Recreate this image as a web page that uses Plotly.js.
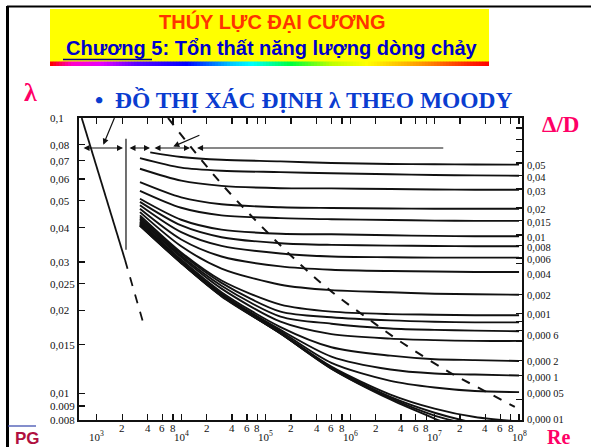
<!DOCTYPE html>
<html><head><meta charset="utf-8">
<script src="https://cdn.plot.ly/plotly-3.0.1.min.js"></script>
<style>html,body{margin:0;padding:0;background:#fff;overflow:hidden}#chart{width:591px;height:447px}</style>
</head><body><div id="chart"></div>
<script>
// ---------- data ----------
const reGrid = [3250, 1e4, 3e4, 1.5e5, 6e5, 3e6, 1e7, 3e7, 1e8];
const reTop  = [4300, 1e4, 3e4, 1.5e5, 6e5, 3e6, 1e7, 3e7, 1e8];
const roughLabels = ['0,05','0,04','0,03','0,02','0,015','0,01','0,008','0,006','0,004','0,002','0,001','0,000 6','0,000 2','0,000 1','0,000 05','0,000 01'];
const labelLam = [0.0672,0.0608,0.0541,0.0464,0.0417,0.0368,0.0339,0.0305,0.0271,0.0226,0.0194,0.0162,0.0131,0.0114,0.0100,0.00804];
const lam_050 = [0.0750,0.0722,0.0705,0.0696,0.0686,0.0681,0.0679,0.0678,0.0677];
const lam_040 = [0.0715,0.0660,0.0643,0.0636,0.0630,0.0625,0.0621,0.0619,0.0617];
const lam_030 = [0.0654,0.0592,0.0567,0.0556,0.0555,0.0552,0.0550,0.0549,0.0549];
const lam_020 = [0.0585,0.0515,0.0486,0.0474,0.0471,0.0469,0.0468,0.0468,0.0468];
const lam_015 = [0.0544,0.0472,0.0443,0.0433,0.0429,0.0426,0.0424,0.0423,0.0423];
const lam_010 = [0.0509,0.0427,0.0393,0.0380,0.0378,0.0375,0.0373,0.0372,0.0372];
const lam_008 = [0.0496,0.0407,0.0369,0.0351,0.0346,0.0344,0.0343,0.0342,0.0342];
const lam_006 = [0.0482,0.0385,0.0343,0.0322,0.0314,0.0312,0.0311,0.0311,0.0311];
const lam_004 = [0.0468,0.0362,0.0314,0.0289,0.0281,0.0278,0.0277,0.0276,0.0276];
const lam_002 = [0.0455,0.0342,0.0284,0.0248,0.0237,0.0233,0.0230,0.0229,0.0228];
const lam_001 = [0.0443,0.0325,0.0257,0.0210,0.0198,0.0194,0.0193,0.0192,0.0192];
const lam_0008 = [0.0436,0.0321,0.0252,0.0198,0.0189,0.0184,0.0182,0.0181,0.0181];
const lam_0006 = [0.0430,0.0316,0.0246,0.0190,0.0179,0.0172,0.0170,0.0169,0.0168];
const lam_0004 = [0.0425,0.0312,0.0240,0.0182,0.0164,0.0158,0.0156,0.0155,0.0155];
const lam_0002 = [0.0420,0.0306,0.0233,0.0174,0.0147,0.0137,0.0133,0.0132,0.0131];
const lam_0001 = [0.0416,0.0302,0.0230,0.0170,0.0136,0.0122,0.0118,0.0117,0.0116];
const lam_00005 = [0.0413,0.0300,0.0228,0.0168,0.0129,0.0111,0.0105,0.0102,0.0101];
const lam_00001 = [0.0410,0.0299,0.0227,0.0166,0.0125,0.0099,0.0088,0.0082,0.0079];
const lam_000005 = [0.0408,0.0298,0.0226,0.0165,0.0124,0.0097,0.0085,0.0078,0.0073];
const lam_000001 = [0.0407,0.0298,0.0226,0.0165,0.0123,0.0096,0.0083,0.0076,0.0068];
const lam_smooth = [0.0406,0.0297,0.0225,0.0165,0.0123,0.0095,0.0081,0.0071,0.0062];

const laminarRe = [664, 2164];      const laminarLam = [0.1, 0.0305];
const laminarDashRe = [2164, 3556]; const laminarDashLam = [0.0305, 0.018];
const criticalRe = [2220, 2220];    const criticalLam = [0.0841, 0.0332];
const boundaryRe  = [6980, 13800, 33000, 92900, 276000, 626000, 1.58e6, 4.22e6, 1.52e7, 4.16e7, 8.91e7];
const boundaryLam = [0.1, 0.0767, 0.0558, 0.0399, 0.0288, 0.0232, 0.0188, 0.0152, 0.0119, 0.0101, 0.00892];

const yTickVals = [0.1,0.08,0.07,0.06,0.05,0.04,0.03,0.025,0.02,0.015,0.01,0.009,0.008];
const yTickText = ['0,1','0,08','0,07','0,06','0,05','0,04','0,03','0,025','0,02','0,015','0,01','0.009','0.008'];
const xDecades = [1e3,1e4,1e5,1e6,1e7,1e8];
const xDecadeText = ['10<sup>3</sup>','10<sup>4</sup>','10<sup>5</sup>','10<sup>6</sup>','10<sup>7</sup>','10<sup>8</sup>'];
const xMinorMult = [2,4,6,8];
const rightTicks = [0.092,0.0838,0.0755,0.0686,0.0617,0.0552,0.0471,0.0424,0.0376,0.0344,0.0310,0.0296,0.0229,0.0195,0.0182,0.0169,0.0155,0.0132,0.0116,0.0095];
const arrowLam = 0.0778;
const arrowSegs = [[670,2046],[2345,4275],[4637,12700]];
const arrowLast = [15400, 1.32e7];

// ---------- layout helpers ----------
const L=79, R=69, T=118, B=27, PW=591-L-R, PH=447-T-B;
const px = x => (x-L)/PW, py = y => (447-B-y)/PH;
const lg = Math.log10;
const yr = [Math.log10(0.008),-1];
const yPaper = v => (lg(v)-yr[0])/(yr[1]-yr[0]);

const curveList = [lam_050,lam_040,lam_030,lam_020,lam_015,lam_010,lam_008,lam_006,lam_004,lam_002,lam_001,lam_0008,lam_0006,lam_0004,lam_0002,lam_0001,lam_00005,lam_00001,lam_000005,lam_000001,lam_smooth];
const traces = [];
curveList.forEach((c,i)=>{
  traces.push({x: i===0?reTop:reGrid, y:c, mode:'lines', line:{color:'#111',width:1.9,shape:'spline',smoothing:0.8}, hoverinfo:'skip', showlegend:false});
});
traces.push({x:laminarRe,y:laminarLam,mode:'lines',line:{color:'#111',width:1.8},showlegend:false,hoverinfo:'skip'});
traces.push({x:laminarDashRe,y:laminarDashLam,mode:'lines',line:{color:'#111',width:1.8,dash:'dash'},showlegend:false,hoverinfo:'skip'});
traces.push({x:criticalRe,y:criticalLam,mode:'lines',line:{color:'#111',width:1.2},showlegend:false,hoverinfo:'skip'});
traces.push({x:boundaryRe,y:boundaryLam,mode:'lines',line:{color:'#111',width:2,dash:'dash',shape:'spline'},showlegend:false,hoverinfo:'skip'});
traces.push({x:[1e5],y:[0.05],yaxis:'y2',mode:'markers',marker:{opacity:0},showlegend:false,hoverinfo:'skip'});

const ann = [];
const serif = 'Liberation Serif, Times New Roman, serif';
const sans = 'Liberation Sans, Arial, sans-serif';
function txt(text,x,y,size,color,family,xa){ann.push({text,x:px(x),y:py(y),xref:'paper',yref:'paper',showarrow:false,xanchor:xa||'center',yanchor:'middle',font:{size,color,family}});}
txt('<b>THÚY LỰC ĐẠI CƯƠNG</b>',272,21,20,'#FF3300',sans);
txt('<b>Chương 5: Tổn thất năng lượng dòng chảy</b>',271.5,48,20,'#0000CC',sans);
txt('<b>λ</b>',30,93,26,'#FF0066',serif);
txt('<b>•  ĐỒ THỊ XÁC ĐỊNH λ THEO MOODY</b>',304,100,23.5,'#0A3CD0',serif);
txt('<b>Δ/D</b>',560,124,23,'#FF0066',serif);
txt('<b>Re</b>',558,436.5,20,'#FF0066',serif);
txt('<b>PG</b>',27,438,17,'#B01040',sans);
// y tick labels (left aligned as in the picture)
yTickVals.forEach((v,i)=>{
  ann.push({text:yTickText[i],x:px(48),y:yPaper(v),xref:'paper',yref:'paper',showarrow:false,xanchor:'left',yanchor:'middle',font:{size:11,family:serif,color:'#111'}});
});
// x tick labels
xDecades.forEach((d,i)=>{
  ann.push({text:xDecadeText[i],x:lg(d),y:py(436),xref:'x',yref:'paper',showarrow:false,xanchor:'center',yanchor:'middle',font:{size:11,family:serif,color:'#111'}});
  if(i<xDecades.length-1) xMinorMult.forEach(m=>{
    ann.push({text:String(m),x:lg(d*m),y:py(428),xref:'x',yref:'paper',showarrow:false,xanchor:'center',yanchor:'middle',font:{size:11,family:serif,color:'#111'}});
  });
});
// right labels (Δ/D)
roughLabels.forEach((t,i)=>{
  ann.push({text:t,x:px(525),y:yPaper(labelLam[i]),xref:'paper',yref:'paper',showarrow:false,xanchor:'left',yanchor:'middle',font:{size:10.5,family:serif,color:'#111'}});
});
// arrows
function arr(x1,x2,y,side){ann.push({x:lg(x2),y:lg(y),ax:lg(x1),ay:lg(y),xref:'x',yref:'y',axref:'x',ayref:'y',text:'',showarrow:true,arrowhead:2,arrowsize:1,arrowwidth:1.2,arrowcolor:'#111',arrowside:side,standoff:0,startstandoff:0});}
arrowSegs.forEach(s=>arr(s[0],s[1],arrowLam,'end+start'));
arr(arrowLast[1],arrowLast[0],arrowLam,'end');
ann.push({x:lg(1197),y:lg(0.080),ax:lg(1647),ay:lg(0.1013),xref:'x',yref:'y',axref:'x',ayref:'y',text:'',showarrow:true,arrowhead:2,arrowwidth:1.2,arrowcolor:'#111',standoff:0});
ann.push({x:lg(8063),y:lg(0.0788),ax:lg(17100),ay:lg(0.087),xref:'x',yref:'y',axref:'x',ayref:'y',text:'',showarrow:true,arrowhead:2,arrowwidth:1.2,arrowcolor:'#111',standoff:0});

// shapes: slide decoration
const shapes = [];
function rect(x0,y0,x1,y1,color){shapes.push({type:'rect',xref:'paper',yref:'paper',x0:px(x0),x1:px(x1),y0:py(y1),y1:py(y0),fillcolor:color,line:{width:0},layer:'below'});}
function seg(x0,y0,x1,y1,color,w){shapes.push({type:'line',xref:'paper',yref:'paper',x0:px(x0),x1:px(x1),y0:py(y0),y1:py(y1),line:{color,width:w}});}
rect(50,9,489,62,'#FFFF00');
const stops = [[50,[255,0,0]],[70,[255,0,200]],[100,[230,0,255]],[135,[90,0,255]],[185,[0,0,255]],[230,[0,200,255]],[250,[0,255,255]],[290,[0,255,60]],[330,[190,255,0]],[365,[255,255,0]],[420,[255,150,0]],[470,[255,30,0]],[489,[255,0,0]]];
for(let x=50;x<489;x+=3){
  let j=0; while(j<stops.length-2 && stops[j+1][0]<=x) j++;
  const [a,ca]=stops[j],[b,cb]=stops[j+1]; const t=Math.min(1,Math.max(0,(x-a)/(b-a)));
  const c=ca.map((v,k)=>Math.round(v+(cb[k]-v)*t));
  rect(x,61.5,Math.min(489,x+3.2),66,`rgb(${c})`);
}
seg(63,59.5,152,59.5,'#000080',1.5);
seg(7,6.5,591,6.5,'#000',2);
seg(7.5,6,7.5,447,'#000',3);
seg(8,426,36,426,'#3344AA',1.2);

const layout = {
  width:591,height:447,margin:{l:L,r:R,t:T,b:B},paper_bgcolor:'#fff',plot_bgcolor:'#fff',showlegend:false,
  xaxis:{type:'log',range:[2.79,8.035],showgrid:false,zeroline:false,showline:true,linecolor:'#111',linewidth:1.6,mirror:'ticks',ticks:'inside',ticklen:6,tickwidth:1.2,tickcolor:'#111',tickvals:[1e3,2e3,4e3,6e3,8e3,1e4,2e4,4e4,6e4,8e4,1e5,2e5,4e5,6e5,8e5,1e6,2e6,4e6,6e6,8e6,1e7,2e7,4e7,6e7,8e7,1e8],showticklabels:false},
  yaxis:{type:'log',range:yr,showgrid:false,zeroline:false,showline:true,linecolor:'#111',linewidth:1.6,ticks:'inside',ticklen:6,tickwidth:1.2,tickcolor:'#111',tickvals:yTickVals,showticklabels:false},
  yaxis2:{type:'log',range:yr,overlaying:'y',side:'right',showgrid:false,zeroline:false,showline:true,linecolor:'#111',linewidth:1.6,ticks:'inside',ticklen:6,tickwidth:1.2,tickcolor:'#111',tickvals:rightTicks,showticklabels:false},
  annotations:ann,shapes:shapes
};
Plotly.newPlot('chart',traces,layout,{staticPlot:true,displayModeBar:false});
</script></body></html>
